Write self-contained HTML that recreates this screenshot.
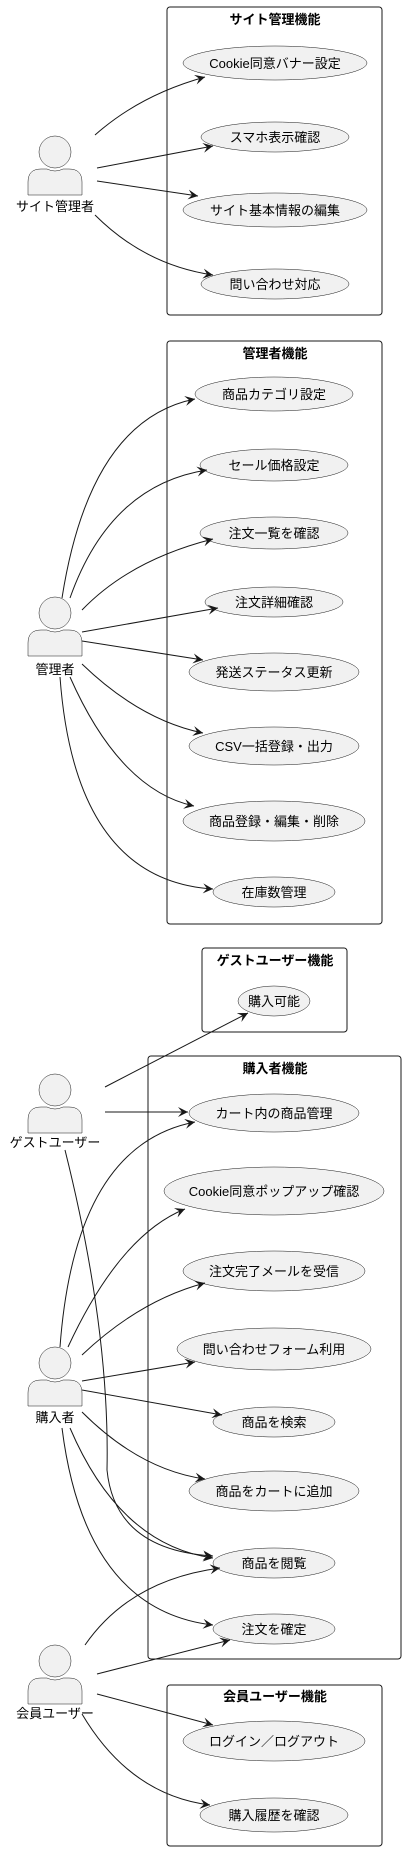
<!DOCTYPE html>
<html><head><meta charset="utf-8"><style>html,body{margin:0;padding:0;background:#fff}svg{display:block}text{font-family:"Liberation Sans","Noto Sans CJK JP",sans-serif;font-size:13px;fill:#000}</style></head><body>
<svg width="406" height="1852" viewBox="0 0 406 1852" xmlns="http://www.w3.org/2000/svg">
<defs>
<marker id="a" markerWidth="12" markerHeight="10" refX="10" refY="5" orient="auto" markerUnits="userSpaceOnUse"><path d="M0,0 L10,5 L0,10 L4,5 Z" fill="#181818"/></marker>
<g id="actor"><circle cx="0" cy="0" r="16" fill="#f1f1f1" stroke="#181818" stroke-width="0.5"/><path d="M-27,43 L-27,30 Q-27,17 -14,17 L-8,17 Q0,21 8,17 L14,17 Q27,17 27,30 L27,43 Z" fill="#f1f1f1" stroke="#181818" stroke-width="0.5"/></g>
</defs>
<g fill="none" stroke="#181818" stroke-width="1">
<rect x="167" y="7" width="215" height="308" rx="3"/>
<rect x="167" y="341" width="215" height="583" rx="3"/>
<rect x="202" y="948" width="145" height="84" rx="3"/>
<rect x="148" y="1056" width="253" height="603" rx="3"/>
<rect x="167" y="1685" width="215" height="161" rx="3"/>
</g>
<g text-anchor="middle">
<text x="275" y="24" font-weight="bold">サイト管理機能</text>
<text x="275" y="358" font-weight="bold">管理者機能</text>
<text x="275" y="965" font-weight="bold">ゲストユーザー機能</text>
<text x="275" y="1073" font-weight="bold">購入者機能</text>
<text x="275" y="1701" font-weight="bold">会員ユーザー機能</text>
</g>
<g fill="#f1f1f1" stroke="#181818" stroke-width="0.5">
<ellipse cx="275" cy="63" rx="92" ry="17"/>
<ellipse cx="275" cy="137" rx="74" ry="15"/>
<ellipse cx="275" cy="210" rx="92" ry="17"/>
<ellipse cx="275" cy="284" rx="74" ry="15"/>
<ellipse cx="274" cy="394" rx="79" ry="17"/>
<ellipse cx="274" cy="465" rx="74" ry="16"/>
<ellipse cx="274" cy="533" rx="74" ry="16"/>
<ellipse cx="274" cy="602" rx="69" ry="15"/>
<ellipse cx="274" cy="672" rx="85" ry="19"/>
<ellipse cx="274" cy="746" rx="85" ry="19"/>
<ellipse cx="274" cy="821" rx="91" ry="20"/>
<ellipse cx="274" cy="892" rx="61" ry="15"/>
<ellipse cx="274" cy="1001" rx="36" ry="15"/>
<ellipse cx="274" cy="1113" rx="85" ry="19"/>
<ellipse cx="274" cy="1191" rx="110" ry="24"/>
<ellipse cx="274" cy="1271" rx="91" ry="20"/>
<ellipse cx="274" cy="1349" rx="97" ry="21"/>
<ellipse cx="274" cy="1422" rx="61" ry="15"/>
<ellipse cx="274" cy="1491" rx="85" ry="20"/>
<ellipse cx="274" cy="1563" rx="61" ry="15"/>
<ellipse cx="274" cy="1629" rx="61" ry="15"/>
<ellipse cx="274" cy="1741" rx="91" ry="20"/>
<ellipse cx="274" cy="1815" rx="74" ry="17"/>
</g>
<g text-anchor="middle">
<text x="275" y="68">Cookie同意バナー設定</text>
<text x="275" y="142">スマホ表示確認</text>
<text x="275" y="215">サイト基本情報の編集</text>
<text x="275" y="289">問い合わせ対応</text>
<text x="274" y="399">商品カテゴリ設定</text>
<text x="274" y="470">セール価格設定</text>
<text x="274" y="538">注文一覧を確認</text>
<text x="274" y="607">注文詳細確認</text>
<text x="274" y="677">発送ステータス更新</text>
<text x="274" y="751">CSV一括登録・出力</text>
<text x="274" y="826">商品登録・編集・削除</text>
<text x="274" y="897">在庫数管理</text>
<text x="274" y="1006">購入可能</text>
<text x="274" y="1118">カート内の商品管理</text>
<text x="274" y="1196">Cookie同意ポップアップ確認</text>
<text x="274" y="1276">注文完了メールを受信</text>
<text x="274" y="1354">問い合わせフォーム利用</text>
<text x="274" y="1427">商品を検索</text>
<text x="274" y="1496">商品をカートに追加</text>
<text x="274" y="1568">商品を閲覧</text>
<text x="274" y="1634">注文を確定</text>
<text x="274" y="1746">ログイン／ログアウト</text>
<text x="274" y="1820">購入履歴を確認</text>
</g>
<use href="#actor" x="55" y="152"/><text x="55" y="211" text-anchor="middle">サイト管理者</text>
<use href="#actor" x="55" y="613"/><text x="55" y="674" text-anchor="middle">管理者</text>
<use href="#actor" x="55" y="1090"/><text x="55" y="1147" text-anchor="middle">ゲストユーザー</text>
<use href="#actor" x="55" y="1363"/><text x="55" y="1422" text-anchor="middle">購入者</text>
<use href="#actor" x="55" y="1661"/><text x="55" y="1718" text-anchor="middle">会員ユーザー</text>
<g fill="none" stroke="#181818" stroke-width="1" marker-end="url(#a)">
<path d="M95,135 Q140,95 205,77"/>
<path d="M97,168 L213,146"/>
<path d="M97,181 L198,196"/>
<path d="M95,215 Q145,265 213,275"/>
<path d="M62,598 Q90,420 195,399"/>
<path d="M70,598 Q110,485 207,470"/>
<path d="M82,610 Q130,560 213,539"/>
<path d="M82,632 L218,608"/>
<path d="M82,641 L203,660"/>
<path d="M82,664 Q140,720 203,733"/>
<path d="M70,677 Q120,790 194,806"/>
<path d="M60,677 Q75,880 213,889"/>
<path d="M105,1087 L248,1013"/>
<path d="M105,1112 L188,1112"/>
<path d="M65,1150 Q110,1330 107,1470 Q115,1550 213,1556"/>
<path d="M60,1347 Q75,1145 195,1122"/>
<path d="M68,1347 Q120,1235 185,1209"/>
<path d="M82,1355 Q140,1300 205,1283"/>
<path d="M82,1381 L195,1362"/>
<path d="M82,1390 L222,1415"/>
<path d="M82,1412 Q140,1470 205,1479"/>
<path d="M70,1428 Q120,1545 213,1558"/>
<path d="M62,1428 Q85,1610 213,1625"/>
<path d="M85,1645 Q130,1580 220,1568"/>
<path d="M97,1674 L230,1640"/>
<path d="M97,1694 L213,1725"/>
<path d="M82,1714 Q130,1795 210,1805"/>
</g>
</svg>
</body></html>
